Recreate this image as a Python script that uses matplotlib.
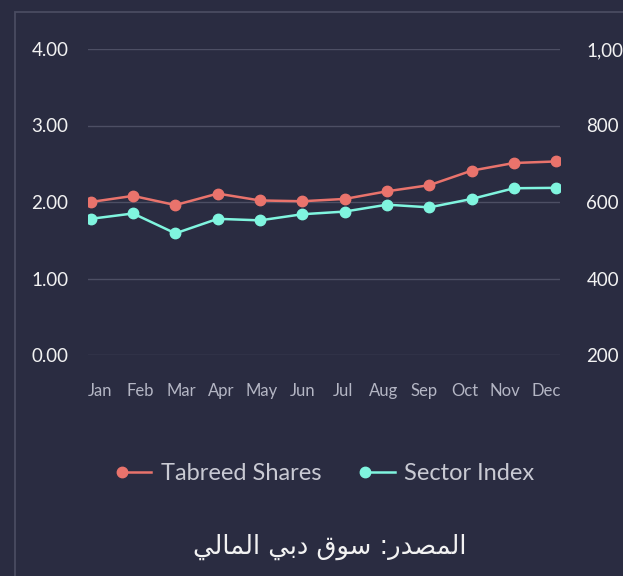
import matplotlib
matplotlib.use("Agg")
import matplotlib.pyplot as plt
from matplotlib.lines import Line2D
from matplotlib.legend_handler import HandlerLine2DCompound
from matplotlib.patches import Rectangle
import numpy as np

months = ["Jan", "Feb", "Mar", "Apr", "May", "Jun", "Jul", "Aug", "Sep", "Oct", "Nov", "Dec"]
tabreed = [2.00, 2.08, 1.96, 2.11, 2.02, 2.01, 2.04, 2.14, 2.22, 2.41, 2.51, 2.53]
sector = [556, 570, 518, 556, 552, 568, 575, 593, 586, 608, 636, 637]
left_ticks = [0.0, 1.0, 2.0, 3.0, 4.0]
right_ticks = [200, 400, 600, 800, 1000]
series_names = ["Tabreed Shares", "Sector Index"]

# Arabic source line in presentation forms, visual order ("المصدر: سوق دبي المالي")
source_text = ("\uFEF2\uFEDF\uFE8E\uFEE4\uFEDF\uFE8D" + " " +
               "\uFEF2\uFE91\uFEA9" + " " +
               "\uFED5\uFEEE\uFEB3" + " " +
               ":" + "\uFEAD\uFEAA\uFEBC\uFEE4\uFEDF\uFE8D")

BG = "#2a2c41"
GRID = "#4d4f64"
RED = "#e9736c"
CYAN = "#80f5df"

fig = plt.figure(figsize=(6.23, 5.76), dpi=100, facecolor=BG)

# card border (cropped)
fig.patches.append(Rectangle((15/623, -0.1), 1.2, 1 - 12/576 + 0.1, transform=fig.transFigure,
                             fill=False, edgecolor="#4a4c61", linewidth=1.3))

ax = fig.add_axes([88/623, 1 - 355/576, (560-88)/623, (355-49)/576])
ax.set_facecolor(BG)
ax2 = ax.twinx()

x = np.arange(len(months))
ax.plot(x, tabreed, color=RED, lw=1.8, marker="o", ms=7.5, zorder=3)
ax2.plot(x, sector, color=CYAN, lw=1.8, marker="o", ms=7.5, zorder=3)

ax.set_ylim(0, 4)
ax2.set_ylim(200, 1000)
ax.set_xlim(-0.064, 11.087)

ax.set_yticks(left_ticks)
ax.set_yticklabels([f"{v:.2f}" for v in left_ticks])
ax2.set_yticks(right_ticks)
ax2.set_yticklabels([f"{v:,}" for v in right_ticks])

for v in left_ticks:
    ax.axhline(v, color=GRID, lw=1, zorder=1)

tick_pos = 0.22 + np.arange(len(months)) * (10.53 / 11)
ax.set_xticks(tick_pos)
ax.set_xticklabels(months)

for a in (ax, ax2):
    for s in a.spines.values():
        s.set_visible(False)
    a.tick_params(length=0)

ax.tick_params(axis="y", colors="#f2f2f2", labelsize=13.5, pad=14)
ax2.tick_params(axis="y", colors="#f2f2f2", labelsize=13.5, pad=19)
ax.tick_params(axis="x", colors="#b4b6c4", labelsize=12, pad=20)
for lab in ax.get_yticklabels() + ax2.get_yticklabels():
    lab.set_family("Lato")
for lab in ax.get_xticklabels():
    lab.set_family("Lato")


class LeftMarkerHandler(HandlerLine2DCompound):
    def get_xdata(self, legend, xdescent, ydescent, width, height, fontsize):
        xdata = np.array([-xdescent, -xdescent + width])
        return xdata, np.array([-xdescent])


handles = [Line2D([], [], color=RED, lw=1.8, marker="o", ms=7.5),
           Line2D([], [], color=CYAN, lw=1.8, marker="o", ms=7.5)]
leg = fig.legend(handles, series_names, loc="center", bbox_to_anchor=(328/623, 1 - 474/576),
                 ncol=2, frameon=False, handlelength=1.25, handletextpad=0.4, columnspacing=1.85,
                 prop={"family": "Lato", "size": 17},
                 handler_map={Line2D: LeftMarkerHandler(numpoints=1)})
for t in leg.get_texts():
    t.set_color("#c9cad3")

fig.text(330/623, 1 - 547/576, source_text, ha="center", va="center", color="#f2f2f2",
         fontsize=18.5, family="DejaVu Sans")

fig.savefig("out.png", dpi=100, facecolor=BG)
